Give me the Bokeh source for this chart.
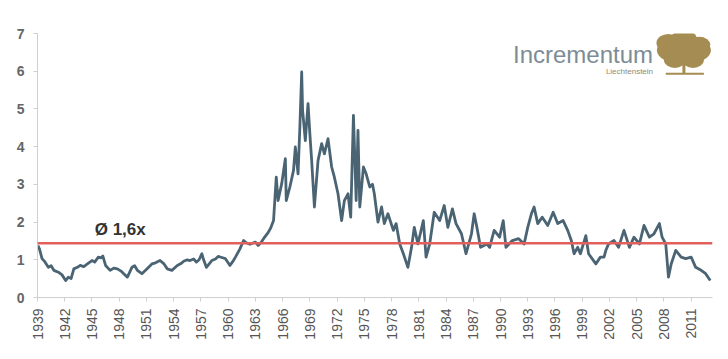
import math
from bokeh.plotting import figure
from bokeh.models import Range1d, FixedTicker, Span, Label
from bokeh.embed import file_html
from bokeh.resources import INLINE

# ---- data ----
years = [1939.05, 1939.2, 1939.5, 1939.8, 1940.2, 1940.5, 1940.8, 1941.3, 1941.7, 1942.1,
         1942.4, 1942.7, 1943.0, 1943.4, 1943.7, 1944.1, 1944.5, 1945.0, 1945.3, 1945.7,
         1946.0, 1946.2, 1946.5, 1947.0, 1947.4, 1947.8, 1948.2, 1948.5, 1948.9, 1949.4,
         1949.7, 1950.0, 1950.5, 1951.1, 1951.6, 1952.0, 1952.5, 1952.9, 1953.3, 1953.8,
         1954.4, 1954.8, 1955.1, 1955.5, 1955.8, 1956.2, 1956.5, 1956.8, 1957.1, 1957.3,
         1957.6, 1958.2, 1958.6, 1958.9, 1959.3, 1959.7, 1960.2, 1960.5, 1960.8, 1961.3,
         1961.7, 1962.0, 1962.4, 1963.0, 1963.3, 1963.6, 1963.9, 1964.4, 1964.7, 1965.0,
         1965.3, 1965.5, 1965.9, 1966.3, 1966.4, 1966.8, 1967.2, 1967.4, 1967.7, 1967.9,
         1968.1, 1968.2, 1968.5, 1968.8, 1969.0, 1969.2, 1969.5, 1969.9, 1970.3, 1970.6,
         1971.0, 1971.4, 1971.7, 1972.1, 1972.5, 1972.8, 1973.2, 1973.5, 1973.8, 1974.1,
         1974.3, 1974.5, 1974.9, 1975.2, 1975.6, 1975.9, 1976.1, 1976.5, 1976.9, 1977.2,
         1977.6, 1978.2, 1978.5, 1978.9, 1979.3, 1979.8, 1980.2, 1980.5, 1980.9, 1981.5,
         1981.8, 1982.2, 1982.7, 1983.3, 1983.8, 1984.2, 1984.7, 1985.1, 1985.7, 1986.2,
         1986.8, 1987.1, 1987.4, 1987.8, 1988.5, 1988.8, 1989.3, 1989.9, 1990.3, 1990.6,
         1991.3, 1992.0, 1992.6, 1993.0, 1993.4, 1993.7, 1994.1, 1994.6, 1995.2, 1995.8,
         1996.3, 1996.9, 1997.4, 1997.8, 1998.1, 1998.5, 1998.8, 1999.4, 1999.7, 2000.5,
         2001.0, 2001.4, 2001.6, 2001.9, 2002.5, 2003.0, 2003.6, 2004.2, 2004.7, 2005.3,
         2005.8, 2006.4, 2006.9, 2007.5, 2007.8, 2008.2, 2008.5, 2008.8, 2009.3, 2009.9,
         2010.4, 2011.0, 2011.5, 2012.1, 2012.6, 2013.1]
ratio = [1.38, 1.30, 1.03, 0.95, 0.80, 0.84, 0.72, 0.67, 0.60, 0.45,
         0.54, 0.50, 0.76, 0.80, 0.85, 0.82, 0.89, 0.98, 0.94, 1.07,
         1.05, 1.10, 0.85, 0.72, 0.78, 0.76, 0.70, 0.63, 0.54, 0.80,
         0.84, 0.72, 0.63, 0.77, 0.89, 0.92, 0.98, 0.90, 0.76, 0.72,
         0.85, 0.90, 0.96, 1.00, 0.98, 1.02, 0.94, 1.00, 1.16, 1.00,
         0.80, 0.98, 1.02, 1.09, 1.06, 1.03, 0.85, 0.95, 1.07, 1.29,
         1.51, 1.45, 1.41, 1.47, 1.38, 1.45, 1.56, 1.72, 1.85, 2.04,
         3.19, 2.57, 3.02, 3.68, 2.57, 2.93, 3.37, 3.99, 3.28, 4.52,
         5.98, 4.96, 4.16, 5.14, 4.34, 3.63, 2.40, 3.63, 4.08, 3.81,
         4.21, 3.46, 3.19, 2.75, 2.04, 2.57, 2.75, 2.13, 4.83, 2.57,
         4.43, 2.40, 3.46, 3.28, 2.93, 3.00, 2.75, 2.00, 2.40, 1.96,
         2.22, 1.78, 1.96, 1.42, 1.16, 0.80, 1.33, 1.86, 1.42, 2.04,
         1.07, 1.42, 2.26, 2.04, 2.44, 1.86, 2.35, 1.96, 1.69, 1.16,
         1.69, 2.22, 1.86, 1.33, 1.42, 1.33, 1.78, 1.60, 2.04, 1.33,
         1.51, 1.56, 1.42, 1.86, 2.22, 2.40, 1.96, 2.13, 1.91, 2.26,
         1.96, 2.04, 1.78, 1.51, 1.16, 1.33, 1.16, 1.64, 1.16, 0.89,
         1.07, 1.07, 1.25, 1.42, 1.51, 1.33, 1.78, 1.33, 1.60, 1.42,
         1.91, 1.60, 1.69, 1.96, 1.60, 1.42, 0.54, 0.89, 1.25, 1.07,
         1.03, 1.07, 0.80, 0.72, 0.63, 0.45]
average_line = 1.44
average_label = "Ø 1,6x"
tick_years = list(range(1939, 2012, 3))
y_ticks = [0, 1, 2, 3, 4, 5, 6, 7]

p = figure(width=720, height=350, output_backend="svg", toolbar_location=None,
           x_range=Range1d(1939, 2013.35), y_range=Range1d(0, 7),
           min_border_left=37, min_border_right=8, min_border_top=33, min_border_bottom=53)
p.outline_line_color = None
p.grid.grid_line_color = None
p.background_fill_color = "white"
p.border_fill_color = "white"

p.line(years, ratio, line_color="#4b6474", line_width=2.8, line_join="round")

p.add_layout(Span(location=average_line, dimension="width",
                  line_color="#e2605c", line_width=2.5))
p.add_layout(Label(x=1945.3, y=1.80, text=average_label, text_font="Arial",
                   text_font_style="bold", text_font_size="17px", text_color="#333333",
                   text_baseline="middle"))

# axes
p.xaxis.ticker = FixedTicker(ticks=tick_years)
p.xaxis.major_label_orientation = math.pi / 2
p.xaxis.major_label_text_font = "Arial"
p.xaxis.major_label_text_font_size = "14px"
p.xaxis.major_label_text_color = "#555555"
p.xaxis.axis_line_color = "#cfcfcf"
p.xaxis.major_tick_line_color = "#cfcfcf"
p.xaxis.major_tick_out = 4
p.xaxis.major_tick_in = 0
p.xaxis.minor_tick_line_color = None
p.xaxis.major_label_standoff = 7

p.yaxis.ticker = FixedTicker(ticks=y_ticks)
p.yaxis.major_label_text_font = "Arial"
p.yaxis.major_label_text_font_size = "14px"
p.yaxis.major_label_text_font_style = "bold"
p.yaxis.major_label_text_color = "#666666"
p.yaxis.axis_line_color = "#cfcfcf"
p.yaxis.major_tick_line_color = "#cfcfcf"
p.yaxis.major_tick_out = 4
p.yaxis.major_tick_in = 0
p.yaxis.minor_tick_line_color = None
p.yaxis.major_label_standoff = 9

# logo
p.add_layout(Label(x=2006.8, y=6.45, text="Incrementum", text_font="Arial",
                   text_font_size="24px", text_color="#7d8c96", text_align="right",
                   text_baseline="middle"))
p.add_layout(Label(x=2006.8, y=5.98, text="Liechtenstein", text_font="Arial",
                   text_font_size="8px", text_color="#8a8a7a", text_align="right",
                   text_baseline="middle"))
gold = "#a58c52"
p.ellipse(x=[2010.2], y=[6.55], width=54, height=28, width_units="screen",
          height_units="screen", fill_color=gold, line_color=None)
p.ellipse(x=[2008.5, 2010.2, 2011.9, 2009.2, 2011.2], y=[6.75, 6.85, 6.7, 6.3, 6.3],
          width=[24, 26, 22, 22, 22], height=[18, 18, 16, 16, 16],
          width_units="screen", height_units="screen", fill_color=gold, line_color=None)
p.segment(x0=[2010.2], y0=[6.3], x1=[2010.2], y1=[5.95], line_color=gold, line_width=3)
p.segment(x0=[2008.2], y0=[5.93], x1=[2012.4], y1=[5.93], line_color=gold, line_width=2)

open("out.html", "w").write(file_html(p, INLINE))
